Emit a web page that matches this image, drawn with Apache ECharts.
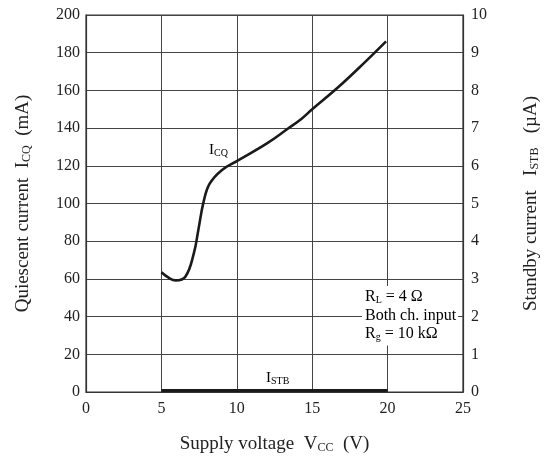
<!DOCTYPE html>
<html>
<head>
<meta charset="utf-8">
<script src="https://cdn.jsdelivr.net/npm/echarts@6/dist/echarts.min.js"></script>
<style>html,body{margin:0;padding:0;background:#fff}#c{width:552px;height:456px}</style>
</head>
<body>
<div id="c"></div>
<script>
const icqVoltage = [5.0, 5.5, 5.95, 6.6, 7.15, 7.45, 7.8, 8.2, 9.0, 10.0, 12.0, 13.4, 14.3, 15.0, 16.7, 18.5, 19.9];
const icqCurrent = [63.5, 60.5, 59.2, 61.3, 73.5, 86, 101, 110.5, 117.7, 122.5, 131.9, 139.8, 145, 150, 161.5, 175, 186];
const istbVoltage = [5, 20];
const istbCurrent = [0.04, 0.04];
const xTicks = [0, 5, 10, 15, 20, 25];
const leftTicks = [0, 20, 40, 60, 80, 100, 120, 140, 160, 180, 200];
const rightTicks = [0, 1, 2, 3, 4, 5, 6, 7, 8, 9, 10];

const FONT = 'Liberation Serif';
const sub = {fontFamily: FONT, fontSize: 12, padding: [8, 0, 0, 0], color: '#222'};
const main = {fontFamily: FONT, fontSize: 19, color: '#222'};
const tickLabel = {fontFamily: FONT, fontSize: 16, color: '#222'};

const chart = echarts.init(document.getElementById('c'), null, {renderer: 'canvas'});
chart.setOption({
  animation: false,
  backgroundColor: '#fff',
  grid: {left: 86, right: 89, top: 15, bottom: 64, containLabel: false, outerBoundsMode: 'none',
    show: true, borderColor: '#333', borderWidth: 1.2, backgroundColor: 'transparent'},
  xAxis: {
    type: 'value', min: xTicks[0], max: xTicks[xTicks.length - 1], interval: 5,
    axisLine: {show: true, lineStyle: {color: '#333', width: 1.2}},
    axisTick: {show: false},
    splitLine: {show: true, lineStyle: {color: '#444', width: 1}},
    axisLabel: Object.assign({margin: 9}, tickLabel),
    name: '{m|Supply voltage  V}{s|CC}{m|  (V)}',
    nameLocation: 'middle', nameGap: 42,
    nameTextStyle: {rich: {m: main, s: sub}}
  },
  yAxis: [{
    type: 'value', min: leftTicks[0], max: leftTicks[leftTicks.length - 1], interval: 20,
    position: 'left',
    axisLine: {show: true, lineStyle: {color: '#333', width: 1.2}},
    axisTick: {show: false},
    splitLine: {show: true, lineStyle: {color: '#444', width: 1}},
    axisLabel: Object.assign({margin: 6}, tickLabel),
    name: '{m|Quiescent current  I}{s|CQ}{m|  (mA)}',
    nameLocation: 'middle', nameGap: 53, nameRotate: 90,
    nameTextStyle: {rich: {m: main, s: sub}}
  }, {
    type: 'value', min: rightTicks[0], max: rightTicks[rightTicks.length - 1], interval: 1,
    position: 'right',
    axisLine: {show: true, lineStyle: {color: '#333', width: 1.2}},
    axisTick: {show: false},
    splitLine: {show: false},
    axisLabel: Object.assign({margin: 8}, tickLabel),
    name: '{m|Standby current   I}{s|STB}{m|   (µA)}',
    nameLocation: 'middle', nameGap: 58, nameRotate: 90,
    nameTextStyle: {rich: {m: main, s: sub}}
  }],
  series: [{
    type: 'line', name: 'ICQ', yAxisIndex: 0, smooth: 0.4, symbol: 'none',
    data: icqVoltage.map((v, i) => [v, icqCurrent[i]]),
    lineStyle: {color: '#1a1a1a', width: 2.6}
  }, {
    type: 'line', name: 'ISTB', yAxisIndex: 1, symbol: 'none',
    data: istbVoltage.map((v, i) => [v, istbCurrent[i]]),
    lineStyle: {color: '#1a1a1a', width: 3}
  }],
  graphic: [
    {type: 'text', left: 209, top: 143, style: {text: '{m|I}{s|CQ}', rich: {m: {fontFamily: FONT, fontSize: 15, color: '#222'}, s: {fontFamily: FONT, fontSize: 10, padding: [6,0,0,0], color: '#222'}}}},
    {type: 'text', left: 266, top: 371, style: {text: '{m|I}{s|STB}', rich: {m: {fontFamily: FONT, fontSize: 15, color: '#222'}, s: {fontFamily: FONT, fontSize: 10, padding: [6,0,0,0], color: '#222'}}}},
    {type: 'text', left: 362, top: 286, z: 10, style: {
      text: '{m|R}{s|L}{m| = 4 Ω}\n{m|Both ch. input}\n{m|R}{s|g}{m| = 10 kΩ}',
      backgroundColor: '#fff', padding: [2, 2, 2, 3], lineHeight: 18.5,
      rich: {m: {fontFamily: FONT, fontSize: 16, color: '#222', lineHeight: 18.5}, s: {fontFamily: FONT, fontSize: 10, padding: [6,0,0,0], color: '#222', lineHeight: 18.5}}
    }}
  ]
});
</script>
</body>
</html>
